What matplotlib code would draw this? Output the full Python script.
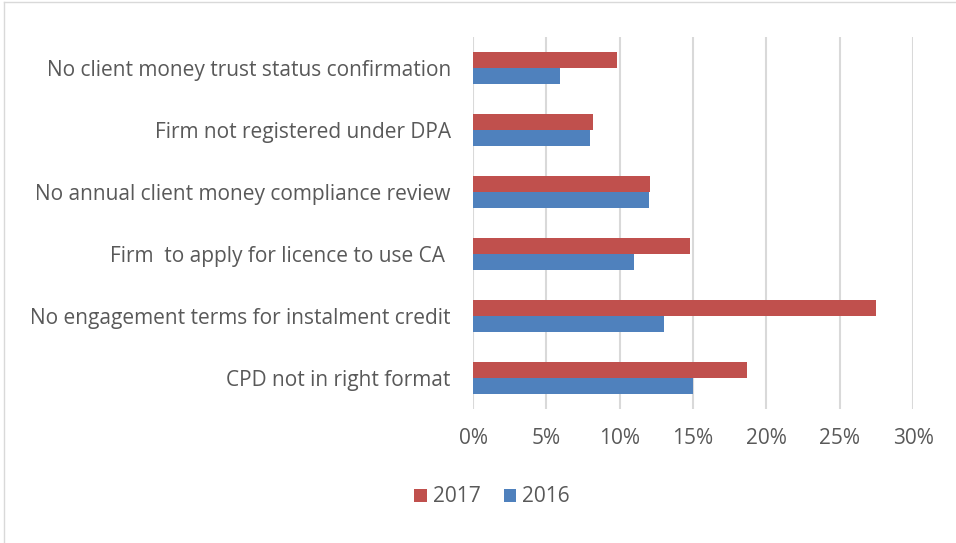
import numpy as np
import matplotlib.pyplot as plt
from matplotlib.lines import Line2D

categories = [
    "CPD not in right format",
    "No engagement terms for instalment credit",
    "Firm  to apply for licence to use CA ",
    "No annual client money compliance review",
    "Firm not registered under DPA",
    "No client money trust status confirmation",
]
values_2017 = [18.65, 27.5, 14.8, 12.1, 8.2, 9.85]
values_2016 = [15.0, 13.0, 11.0, 12.0, 8.0, 5.95]
xticks = [0, 5, 10, 15, 20, 25, 30]
xtick_labels = ["0%", "5%", "10%", "15%", "20%", "25%", "30%"]

red = "#c0504d"
blue = "#4f81bd"
grid_c = "#d9d9d9"
text_c = "#595959"

plt.rcParams['font.family'] = ['Open Sans', 'DejaVu Sans']
fs = 15

W, H = 956, 543
fig = plt.figure(figsize=(W / 100, H / 100), dpi=100)
ax = fig.add_axes([473 / W, 1 - 409 / H, (913 - 473) / W, (409 - 37) / H])

y = np.arange(len(categories))
h = 0.26
ax.barh(y + h / 2, values_2017, height=h, color=red, label="2017", zorder=3)
ax.barh(y - h / 2, values_2016, height=h, color=blue, label="2016", zorder=3)

ax.set_xlim(0, 30)
ax.set_ylim(-0.5, len(categories) - 0.5)
ax.set_xticks(xticks)
ax.set_xticklabels(xtick_labels, fontsize=fs, color=text_c)
ax.set_yticks(y)
ax.set_yticklabels(categories, fontsize=fs, color=text_c)
ax.tick_params(axis='both', length=0)
ax.tick_params(axis='x', pad=14)
ax.tick_params(axis='y', pad=16)
ax.grid(axis='x', color=grid_c, linewidth=1.5, zorder=0)
for s in ax.spines.values():
    s.set_visible(False)

handles, labels = ax.get_legend_handles_labels()
fig.legend(handles, labels, loc='center', bbox_to_anchor=(492 / W, 1 - 497 / H),
           ncol=2, frameon=False, fontsize=fs, labelcolor=text_c,
           handlelength=0.6, handleheight=0.6, handletextpad=0.3, columnspacing=1.1)

fig.add_artist(Line2D([4 / W, 4 / W], [0, 1 - 2 / H], color=grid_c, linewidth=1,
                      transform=fig.transFigure))
fig.add_artist(Line2D([4 / W, 1], [1 - 2 / H, 1 - 2 / H], color=grid_c, linewidth=1,
                      transform=fig.transFigure))

fig.savefig("out.png", dpi=100)
